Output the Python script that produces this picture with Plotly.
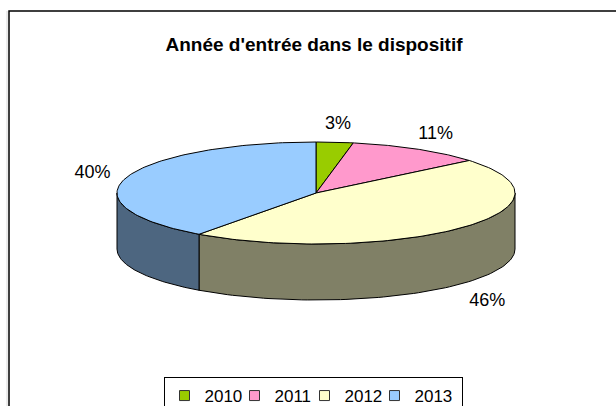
import numpy as np
import plotly.graph_objects as go

# ---- data ----
title_text = "Année d'entrée dans le dispositif"
categories = ["2010", "2011", "2012", "2013"]
values = [3, 11, 46, 40]
top_colors = ["#99CC00", "#FF99CC", "#FFFFCC", "#99CCFF"]
side_colors = ["#4D6600", "#804D66", "#808066", "#4D6680"]

# ---- geometry (pixel space) ----
W, H = 616, 406
CX, CY, RX, RY, DEPTH = 316, 193, 199, 51, 56
LRX, LRY, LDY = 235, 72, 3
FONT = "Liberation Sans, Arial, sans-serif"

total = float(sum(values))
cum = np.concatenate([[0.0], np.cumsum(values)]) / total * 360.0


def ell(theta_deg, dy=0.0):
    t = np.radians(theta_deg)
    return CX + RX * np.sin(t), CY - RY * np.cos(t) + dy


fig = go.Figure()

# side walls (front half only: 90..270 deg clockwise from top)
for i, cat in enumerate(categories):
    lo = max(cum[i], 90.0)
    hi = min(cum[i + 1], 270.0)
    if lo >= hi:
        continue
    ts = np.linspace(lo, hi, 80)
    xt, yt = ell(ts)
    xb, yb = ell(ts[::-1], DEPTH)
    xs = np.concatenate([xt, xb, xt[:1]])
    ys = np.concatenate([yt, yb, yt[:1]])
    fig.add_trace(go.Scatter(x=xs, y=ys, mode="lines", fill="toself",
                             fillcolor=side_colors[i],
                             line=dict(color="black", width=1),
                             showlegend=False, hoverinfo="skip"))

# top faces
for i, cat in enumerate(categories):
    ts = np.linspace(cum[i], cum[i + 1], 120)
    xa, ya = ell(ts)
    xs = np.concatenate([[CX], xa, [CX]])
    ys = np.concatenate([[CY], ya, [CY]])
    fig.add_trace(go.Scatter(x=xs, y=ys, mode="lines", fill="toself",
                             fillcolor=top_colors[i],
                             line=dict(color="black", width=1),
                             showlegend=False, hoverinfo="skip"))

# percentage labels
lx, ly, lt = [], [], []
for i, v in enumerate(values):
    m = np.radians((cum[i] + cum[i + 1]) / 2.0)
    lx.append(CX + LRX * np.sin(m))
    ly.append(CY - LRY * np.cos(m) + LDY + (DEPTH if np.cos(m) < 0 else 0))
    lt.append(f"{round(v / total * 100)}%")
fig.add_trace(go.Scatter(x=lx, y=ly, mode="text", text=lt,
                         textfont=dict(family=FONT, size=18, color="black"),
                         showlegend=False, hoverinfo="skip"))

# legend entries
for i, cat in enumerate(categories):
    fig.add_trace(go.Scatter(x=[None], y=[None], mode="markers", name=cat,
                             legendwidth=25 if i < len(categories) - 1 else 42,
                             marker=dict(symbol="square", size=10, color=top_colors[i],
                                         line=dict(color="#333333", width=1))))

# chart frame (with faint shadow line on the left)
fig.add_shape(type="line", x0=7, y0=11, x1=7, y1=H + 10,
              line=dict(color="#D8D8D8", width=1), layer="below")
fig.add_shape(type="rect", x0=9, y0=11, x1=W + 10, y1=H + 10,
              line=dict(color="black", width=1.5), fillcolor="rgba(0,0,0,0)", layer="below")

fig.update_layout(
    width=W, height=H,
    margin=dict(l=0, r=0, t=0, b=0, pad=0, autoexpand=False),
    paper_bgcolor="white", plot_bgcolor="white",
    title=dict(text=f"<b>{title_text}</b>", x=314 / W, y=1 - 44 / H,
               xanchor="center", yanchor="middle",
               font=dict(family=FONT, size=19, color="black")),
    xaxis=dict(range=[0, W], visible=False, fixedrange=True),
    yaxis=dict(range=[H, 0], visible=False, fixedrange=True),
    showlegend=True,
    legend=dict(orientation="h", x=313 / W, xanchor="center",
                y=1 - 377 / H, yanchor="top",
                bgcolor="white", bordercolor="black", borderwidth=1,
                font=dict(family=FONT, size=17, color="black"),
                itemwidth=30, tracegroupgap=0),
)

fig.write_html("out.html", config={"displayModeBar": False},
               post_script="document.body.style.margin='0';")
